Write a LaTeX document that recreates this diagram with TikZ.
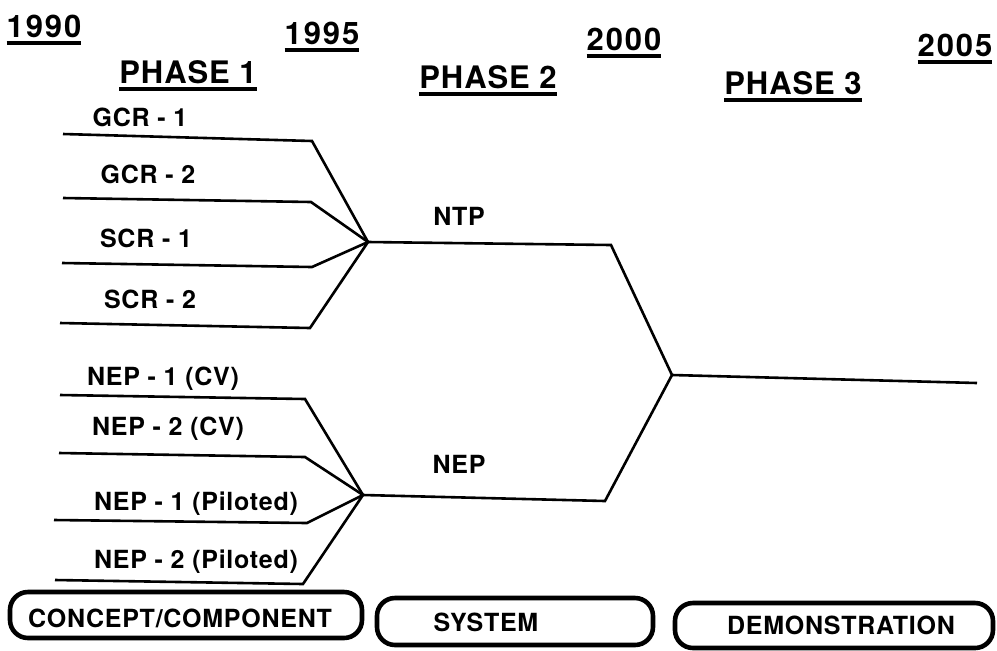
\documentclass[tikz,border=0pt]{standalone}
\usepackage{fontspec}
\setmainfont{TeX Gyre Heros}
\usepackage{tikz}
\usetikzlibrary{positioning}

\newcommand{\hdrul}[1]{\setbox0=\hbox{#1}\rlap{\rule[-3.8pt]{\wd0}{1.6pt}}\box0}

\begin{document}
\begin{tikzpicture}[x=0.5pt, y=-0.5pt,
      year/.style ={anchor=base, inner sep=0pt, font=\fontsize{15.5}{18}\selectfont\bfseries\addfontfeature{LetterSpace=6}},
      phase/.style={anchor=base, inner sep=0pt, font=\fontsize{15.5}{18}\selectfont\bfseries\addfontfeature{LetterSpace=3}},
      tag/.style  ={anchor=base, inner sep=0pt, font=\fontsize{12.5}{14}\selectfont\bfseries\addfontfeature{LetterSpace=3}},
      stage/.style={rectangle, draw, line width=2.3pt, rounded corners=9pt, inner sep=0pt},
      stagetext/.style={anchor=base, inner sep=0pt, font=\fontsize{12.5}{14}\selectfont\bfseries\addfontfeature{LetterSpace=3}},
      link/.style ={line width=1.3pt, line join=miter}
    ]
    \useasboundingbox (0,0) rectangle (997,650);

    % years and phases
    \node [year] (y1990) at (44,37)  {\hdrul{1990}};
    \node [year] (y1995) at (322,44) {\hdrul{1995}};
    \node [year] (y2000) at (624,50) {\hdrul{2000}};
    \node [year] (y2005) at (955,56) {\hdrul{2005}};
    \node [phase] (ph1) at (188,83) {\hdrul{PHASE 1}};
    \node [phase] (ph2) at (488,88) {\hdrul{PHASE 2}};
    \node [phase] (ph3) at (793,94) {\hdrul{PHASE 3}};

    % phase 1 studies
    \node [tag] (gcr1) at (140,126) {GCR - 1};
    \node [tag] (gcr2) at (148,183) {GCR - 2};
    \node [tag] (scr1) at (146,247) {SCR - 1};
    \node [tag] (scr2) at (150,308) {SCR - 2};
    \node [tag] (nep1cv) at (163,385) {NEP - 1 (CV)};
    \node [tag] (nep2cv) at (168,435) {NEP - 2 (CV)};
    \node [tag] (nep1p) at (196,510) {NEP - 1 (Piloted)};
    \node [tag] (nep2p) at (196,568) {NEP - 2 (Piloted)};

    \coordinate (ntp) at (368,242);
    \coordinate (nep) at (363,495);
    \coordinate (demo) at (672,375);

    \coordinate (gcr1a) at (63,134);  \coordinate (gcr1b) at (312,141);
    \coordinate (gcr2a) at (63,198);  \coordinate (gcr2b) at (311,202);
    \coordinate (scr1a) at (62,263);  \coordinate (scr1b) at (312,267);
    \coordinate (scr2a) at (60,323);  \coordinate (scr2b) at (310,328);
    \coordinate (nep1cva) at (60,395); \coordinate (nep1cvb) at (305,399);
    \coordinate (nep2cva) at (59,453); \coordinate (nep2cvb) at (305,457);
    \coordinate (nep1pa) at (54,520);  \coordinate (nep1pb) at (307,523);
    \coordinate (nep2pa) at (55,580);  \coordinate (nep2pb) at (303,584);

    \draw [link] (gcr1a) -- (gcr1b) -- (ntp);
    \draw [link] (gcr2a) -- (gcr2b) -- (ntp);
    \draw [link] (scr1a) -- (scr1b) -- (ntp);
    \draw [link] (scr2a) -- (scr2b) -- (ntp);
    \draw [link] (nep1cva) -- (nep1cvb) -- (nep);
    \draw [link] (nep2cva) -- (nep2cvb) -- (nep);
    \draw [link] (nep1pa) -- (nep1pb) -- (nep);
    \draw [link] (nep2pa) -- (nep2pb) -- (nep);

    % phase 2 systems
    \node [tag] (ntplbl) at (459,225) {NTP};
    \node [tag] (neplbl) at (459,473) {NEP};
    \coordinate (ntpend) at (611,245);
    \coordinate (nepend) at (605,501);
    \coordinate (finish) at (977,383);

    \draw [link] (ntp) -- (ntpend) -- (demo);
    \draw [link] (nep) -- (nepend) -- (demo);
    \draw [link] (demo) -- (finish);

    % stage boxes
    \node [stage, minimum width=176pt, minimum height=23pt] (concept) at (186,615) {};
    \node [stage, minimum width=138pt, minimum height=23.5pt] (system) at (515,621.5) {};
    \node [stage, minimum width=159pt, minimum height=22.5pt] (demobox) at (834,625.5) {};
    \node [stagetext] (concepttxt) at (180,627) {CONCEPT/COMPONENT};
    \node [stagetext] (systemtxt) at (486,631) {SYSTEM};
    \node [stagetext] (demotxt) at (841,634) {DEMONSTRATION};
  \end{tikzpicture}
\end{document}
